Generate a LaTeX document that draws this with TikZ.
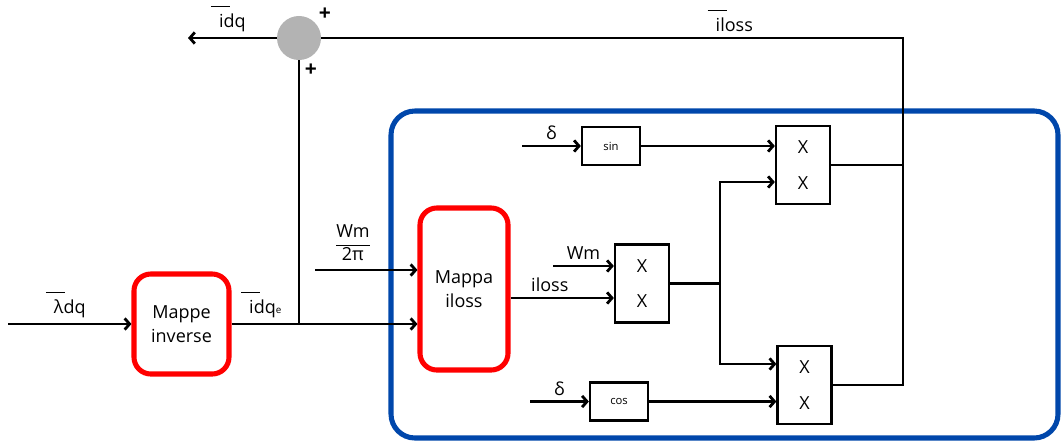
\documentclass[tikz,border=0pt]{standalone}
\usepackage{amsmath}
\usepackage{fontspec}
\setmainfont{Open Sans}
\usetikzlibrary{positioning, arrows.meta, calc}
\definecolor{mapred}{RGB}{255,0,0}
\definecolor{frameblue}{RGB}{0,71,171}
\definecolor{sumgray}{RGB}{179,179,179}
% bar set just before a label, as in the sketch
\newcommand{\barlbl}[1]{\rlap{\kern-0.45em\raisebox{1.15em}{\rule{1.05em}{0.6pt}}}#1}

\begin{document}
\begin{tikzpicture}[x=0.025cm, y=-0.025cm,
  every node/.style={font=\fontsize{12.8}{17}\selectfont},
  wire/.style={line width=2pt},
  arr/.style={wire, -{Straight Barb[length=3.5pt, width=8pt]}},
  mapbox/.style={rectangle, rounded corners=12pt, draw=mapred, line width=3.6pt,
                 align=center},
  funbox/.style={rectangle, draw, line width=1.6pt, minimum width=1.45cm,
                 minimum height=0.95cm, font=\fontsize{8}{10}\selectfont},
  multbox/.style={rectangle, draw, line width=1.6pt, minimum width=1.35cm,
                  minimum height=1.95cm, align=center},
  sumnode/.style={circle, fill=sumgray, minimum size=1.1cm, inner sep=0pt},
  plus/.style={font=\fontsize{15}{16}\selectfont\bfseries, inner sep=0pt}
]
  \useasboundingbox (0,0) rectangle (1062,441);

  % blue frame round the loss block
  \draw[line width=3.6pt, draw=frameblue, rounded corners=17pt]
    (391,111) rectangle (1058,438);

  \node[sumnode] (sum) at (299,38) {};
  \node[plus] (plusa) at (325,14) {+};
  \node[plus] (plusb) at (311,70) {+};

  \node[mapbox, minimum width=2.375cm, minimum height=2.5cm] (mapinv)
    at (181.5,324) {Mappe\\inverse};
  \node[mapbox, minimum width=2.2cm, minimum height=4.05cm] (mapiloss)
    at (464,289) {Mappa\\iloss};

  \node[funbox] (sinb) at (611,146) {sin};
  \node[funbox] (cosb) at (619,401.5) {cos};

  \node[multbox] (multa) at (803,165) {X\\[8pt]X};
  \node[multbox] (multb) at (642,283.5) {X\\[8pt]X};
  \node[multbox] (multc) at (804.5,385) {X\\[8pt]X};

  % inputs
  \coordinate (lin) at (8,324);
  \draw[arr] (lin) -- (mapinv.west) node[midway, above] {\barlbl{λ}dq};

  \coordinate (tap) at (mapinv -| sum);
  \draw[wire] (mapinv.east) -- (tap)
    node[midway, above] {\barlbl{idq}{\fontsize{7}{8}\selectfont e}};
  \draw[arr] (tap) -- (tap -| mapiloss.west);
  \draw[wire] (tap) -- (sum.south);

  \coordinate (wmsrc) at (315,270);
  \draw[arr] (wmsrc) -- (wmsrc -| mapiloss.west)
    node[pos=0.37, above, yshift=2pt] {$\dfrac{\text{Wm}}{\text{2π}}$};

  \coordinate (idqout) at (188,38);
  \draw[arr] (sum.west) -- (idqout) node[midway, above] {\barlbl{idq}};

  \coordinate (dsin) at (522,146);
  \draw[arr] (dsin) -- (sinb) node[midway, above] {δ};
  \coordinate (dcos) at (530,401.5);
  \draw[arr] (dcos) -- (cosb) node[midway, above] {δ};

  \coordinate (wmin) at (553,266);
  \draw[arr] (wmin) -- (wmin -| multb.west) node[midway, above] {Wm};
  \coordinate (bin) at ($(multb.west)+(0,14.5)$);
  \draw[arr] (mapiloss.east |- bin) -- (bin) node[pos=0.38, above] {iloss};

  % products
  \draw[arr] (sinb) -- (sinb -| multa.west);
  \draw[arr] (cosb) -- (cosb -| multc.west);
  \coordinate (split) at (720,283.5);
  \draw[wire] (multb.east) -- (split);
  \draw[arr] (split) |- ($(multa.west)+(0,17)$);
  \draw[arr] (split) |- ($(multc.west)+(0,-21)$);

  % feedback to the sum
  \coordinate (fbtop) at (903,38);
  \draw[wire] (multa.east) -- (multa.east -| fbtop);
  \draw[wire] (multc.east) -| (fbtop) -- (sum.east)
    node[pos=0.29, above] {\barlbl{iloss}};
\end{tikzpicture}
\end{document}
